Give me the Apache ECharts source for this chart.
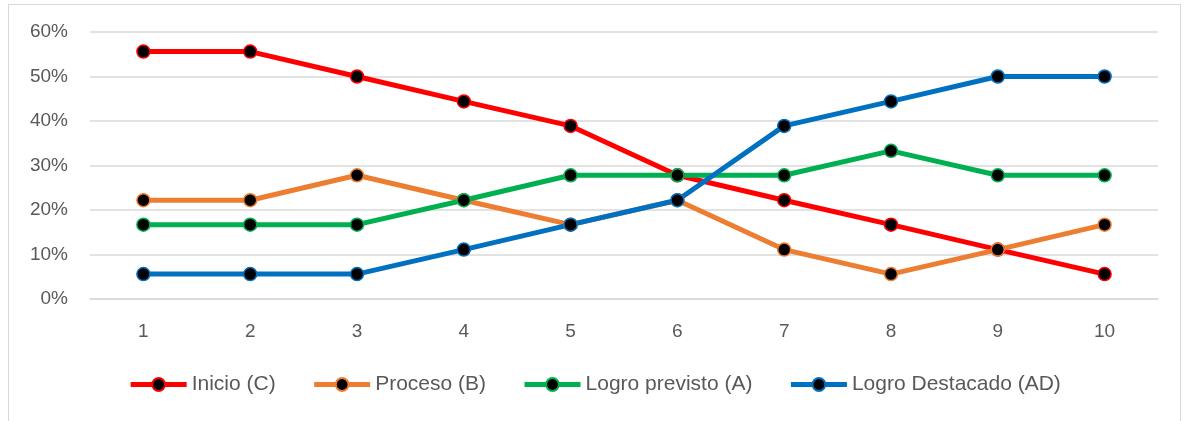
<!DOCTYPE html>
<html><head><meta charset="utf-8">
<script src="https://cdn.jsdelivr.net/npm/echarts@6/dist/echarts.min.js"></script>
<style>
html,body{margin:0;padding:0;background:#fff;}
#frame{position:absolute;left:8px;top:4px;width:1173px;height:430px;border:1px solid #d9d9d9;box-sizing:border-box;}
#c{position:absolute;left:0;top:0;width:1189px;height:421px;}
</style></head>
<body><div id="frame"></div><div id="c"></div>
<script>
const categories = ['1','2','3','4','5','6','7','8','9','10'];
const inicio = [55.6,55.6,50.0,44.4,38.9,27.8,22.2,16.7,11.1,5.6];
const proceso = [22.2,22.2,27.8,22.2,16.7,22.2,11.1,5.6,11.1,16.7];
const previsto = [16.7,16.7,16.7,22.2,27.8,27.8,27.8,33.3,27.8,27.8];
const destacado = [5.6,5.6,5.6,11.1,16.7,22.2,38.9,44.4,50.0,50.0];
const names = ['Inicio (C)','Proceso (B)','Logro previsto (A)','Logro Destacado (AD)'];
const colors = ['#ff0000','#ed7d31','#00b050','#0070c0'];
const font = 'Liberation Sans, Arial, sans-serif';
function mk(name, data, color){
  return {name, type:'line', data, symbol:'circle', symbolSize:13,
    lineStyle:{color, width:5}, itemStyle:{color:'#000', borderColor:color, borderWidth:1.5},
    emphasis:{disabled:true}, animation:false};
}
const chart = echarts.init(document.getElementById('c'));
chart.setOption({
  color: colors,
  grid:{left:90, right:31, top:32, bottom:122, containLabel:false},
  xAxis:{type:'category', data:categories, boundaryGap:true,
    axisLine:{lineStyle:{color:'#d9d9d9', width:1.5}}, axisTick:{show:false},
    axisLabel:{color:'#595959', fontSize:19, fontFamily:font, margin:23}},
  yAxis:{type:'value', min:0, max:60, interval:10,
    axisLabel:{formatter:'{value}%', color:'#595959', fontSize:19, fontFamily:font, margin:22},
    splitLine:{lineStyle:{color:'#d9d9d9', width:1.5}}, axisLine:{show:false}, axisTick:{show:false}},
  legend:{bottom:21, left:'center', itemWidth:56, itemHeight:16, itemGap:36,
    lineStyle:{width:5},
    textStyle:{color:'#595959', fontSize:21, fontFamily:font}, data:names},
  series:[mk(names[0],inicio,colors[0]),mk(names[1],proceso,colors[1]),mk(names[2],previsto,colors[2]),mk(names[3],destacado,colors[3])]
});
</script></body></html>
